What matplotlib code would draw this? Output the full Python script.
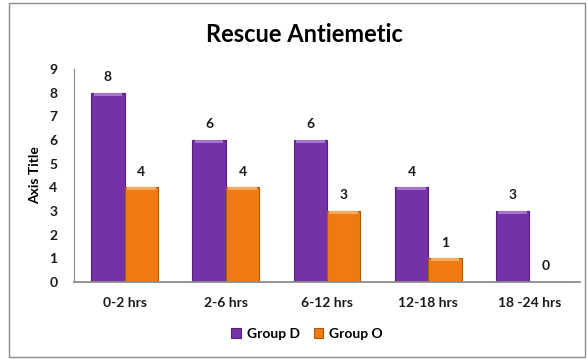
import matplotlib
matplotlib.use("Agg")
import matplotlib.pyplot as plt
from matplotlib.patches import Rectangle
import numpy as np

# данные
categories = ["0-2 hrs", "2-6 hrs", "6-12 hrs", "12-18 hrs", "18 -24 hrs"]
group_d = [8, 6, 6, 4, 3]
group_o = [4, 4, 3, 1, 0]
series_names = ["Group D", "Group O"]

plt.rcParams["font.family"] = ["Lato", "DejaVu Sans"]
plt.rcParams["font.weight"] = "bold"

fig = plt.figure(figsize=(5.87, 3.59), dpi=100)
fig.patch.set_facecolor("white")
# рамка вокруг диаграммы
fig.patches.append(Rectangle((9 / 587, 2 / 359), 576 / 587, 354 / 359, transform=fig.transFigure,
                             fill=False, edgecolor="#8c8c8c", linewidth=1.0))

ax = fig.add_axes([74 / 587, 77 / 359, 506 / 587, 213 / 359])

x = np.arange(len(categories))
w = 0.33
styles = [("#7432a6", "#55207e", "#a676cc"), ("#f07a12", "#b0580a", "#f9aa5c")]
for i, (vals, (fc, ec, hc)) in enumerate(zip([group_d, group_o], styles)):
    pos = x + (i - 0.5) * w
    ax.bar(pos, vals, width=w, color=fc, edgecolor=ec, linewidth=0.8, label=series_names[i], zorder=2)
    # светлая фаска сверху
    strip = np.minimum(0.13, vals)
    ax.bar(pos, strip, bottom=np.array(vals) - strip, width=w * 0.86, color=hc,
           linewidth=0, zorder=3)
    for xp, v in zip(pos, vals):
        ax.annotate(str(v), (xp, v), xytext=(0, 7), textcoords="offset points",
                    ha="center", va="bottom", fontsize=10, fontweight="bold", color="#1a1a1a")

ax.set_xlim(-0.5, len(categories) - 0.5)
ax.set_ylim(0, 9)
ax.set_yticks(range(0, 10))
ax.set_xticks(x, labels=categories)
ax.tick_params(axis="both", length=0, labelsize=10, colors="#1a1a1a")
ax.tick_params(axis="y", pad=12)
ax.tick_params(axis="x", pad=11)
for s in ["top", "right"]:
    ax.spines[s].set_visible(False)
ax.spines["left"].set_color("#8c8c8c")
ax.spines["bottom"].set_color("#8c8c8c")
ax.spines["bottom"].set_linewidth(1.3)
ax.set_ylabel("Axis Title", fontsize=10, fontweight="bold", labelpad=6)

fig.text(304 / 587, 1 - 35 / 359, "Rescue Antiemetic", ha="center", va="center",
         fontsize=17, fontweight="bold", color="#000000")

leg = fig.legend(loc="center", bbox_to_anchor=(307 / 587, 1 - 334 / 359), ncol=2, frameon=False,
                 fontsize=10, handlelength=0.7, handleheight=0.7, handletextpad=0.4, columnspacing=1.0)

fig.savefig("out.png", dpi=100)
